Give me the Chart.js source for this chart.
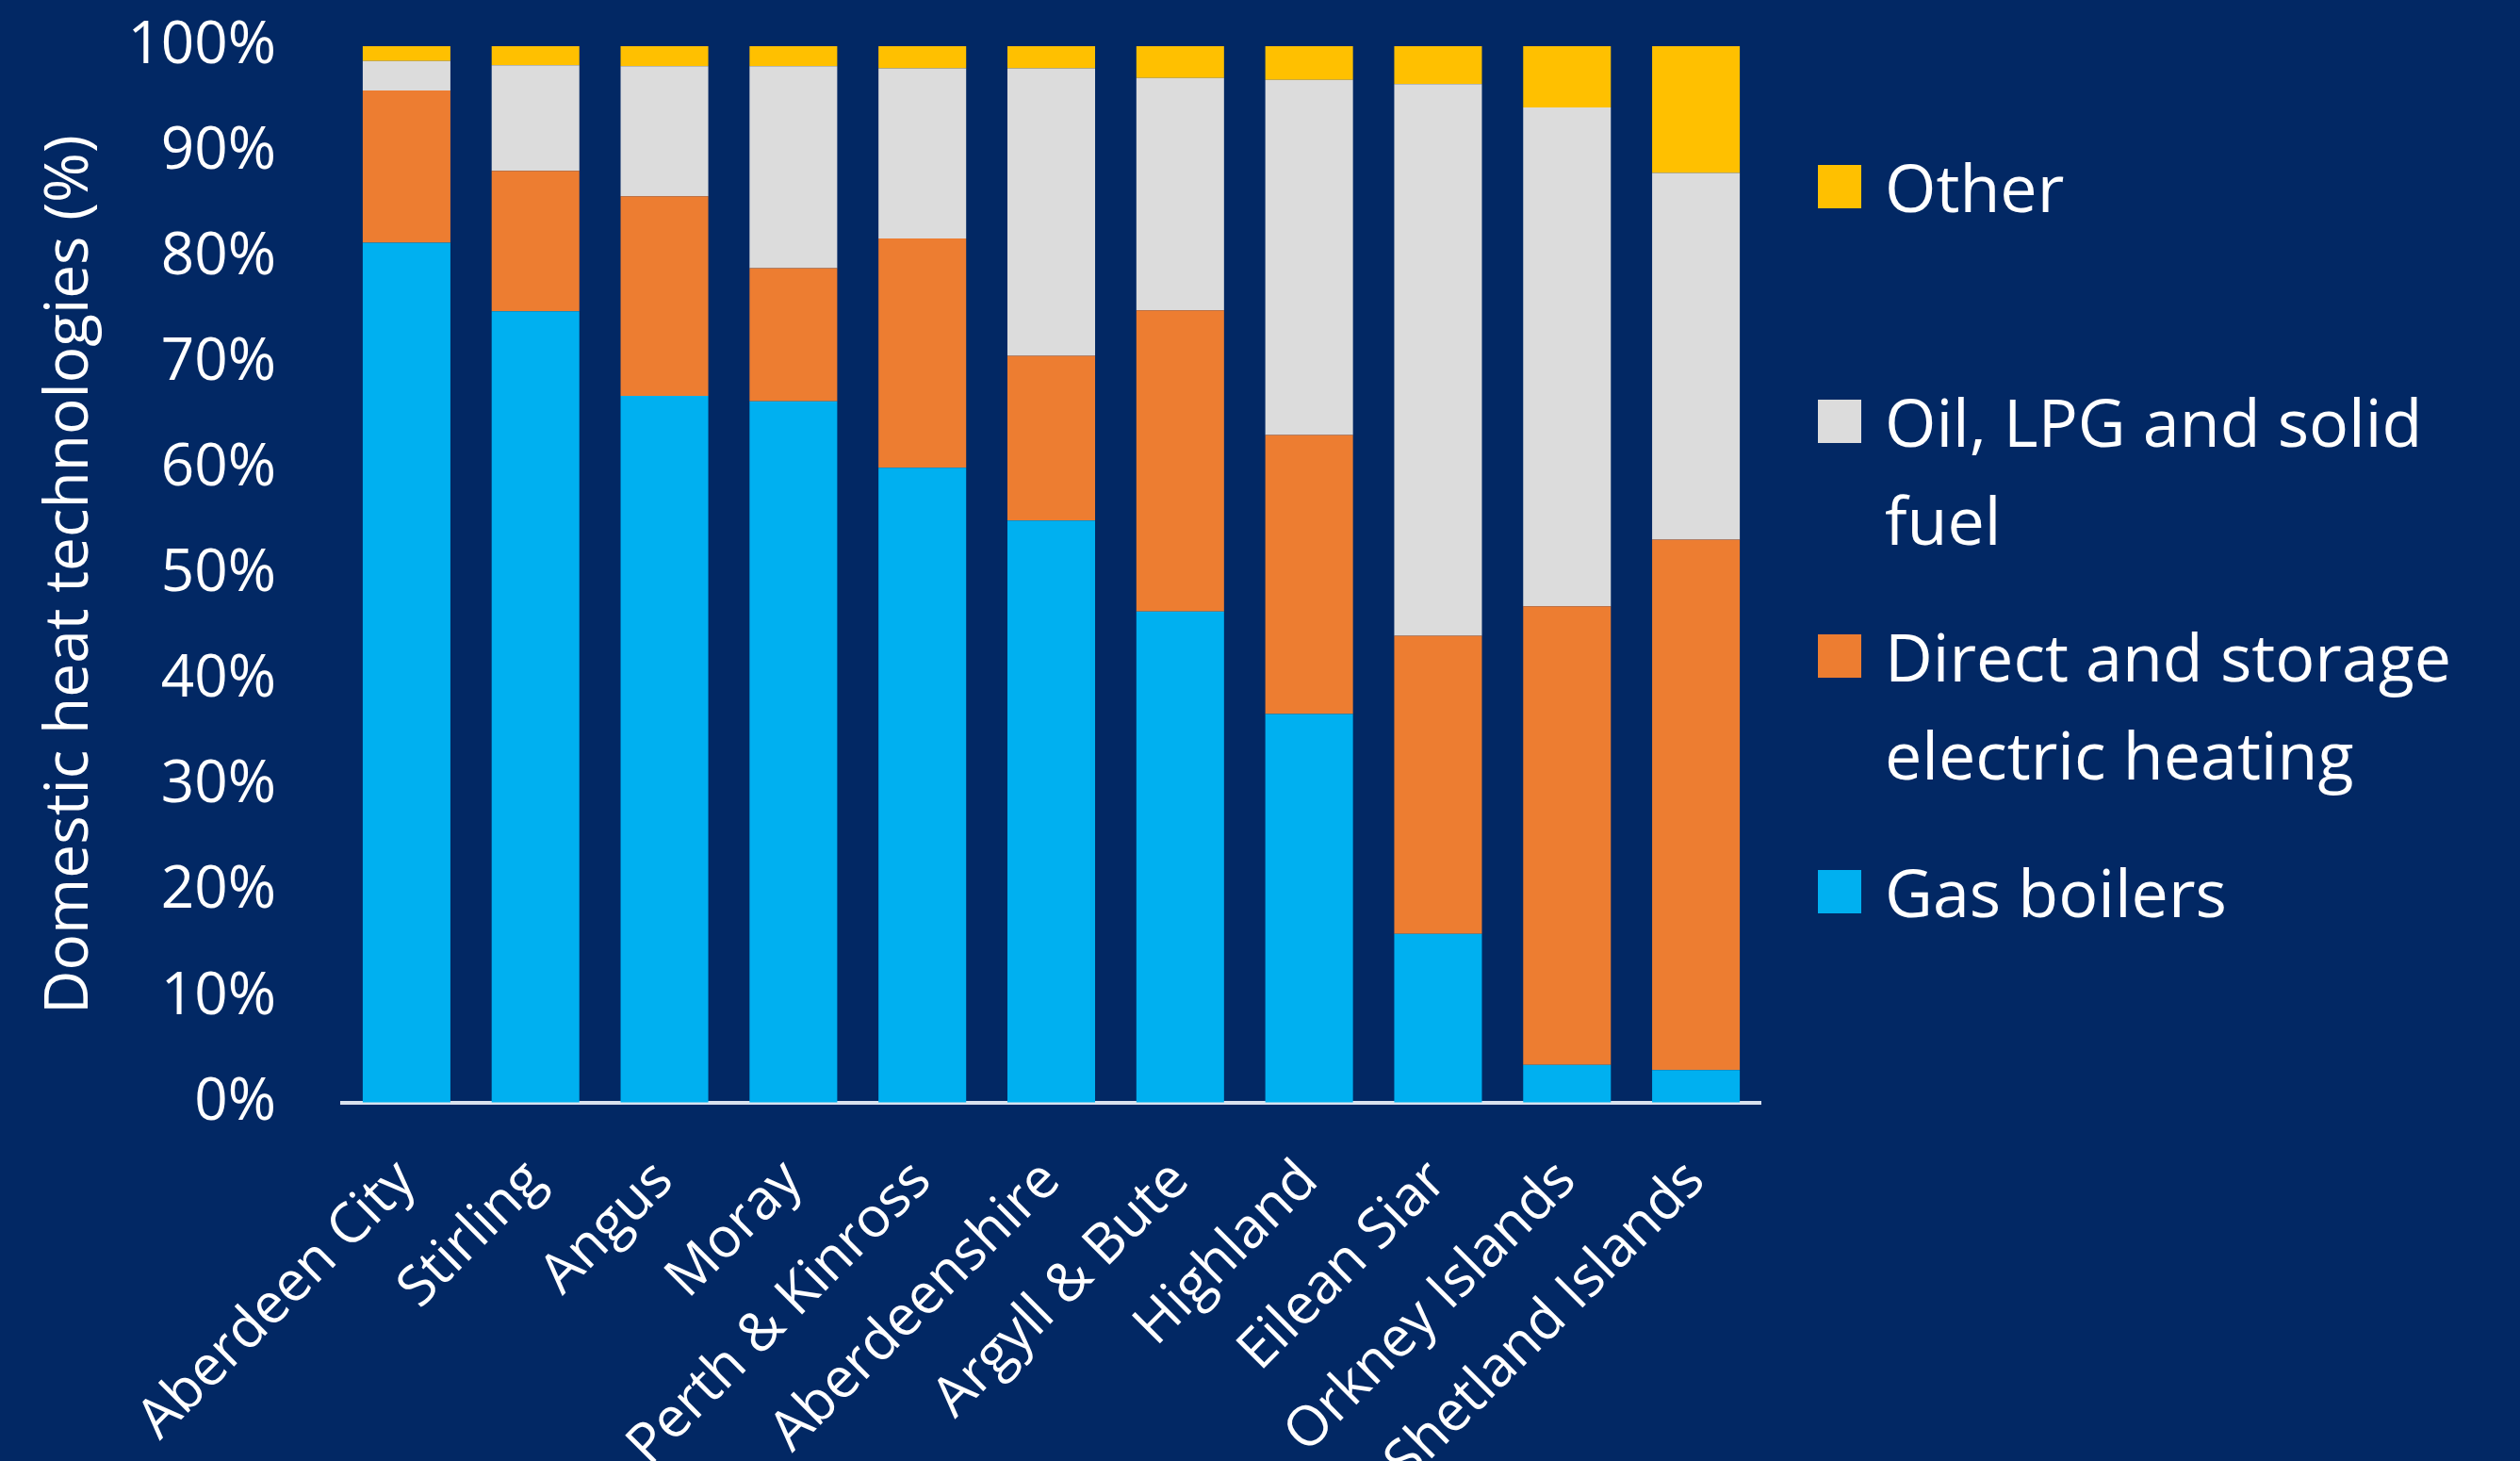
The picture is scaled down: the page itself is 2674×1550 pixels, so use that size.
<!DOCTYPE html>
<html lang="en">
<head>
<meta charset="UTF-8">
<title>Domestic heat technologies by local authority</title>
<script src="https://cdn.jsdelivr.net/npm/chart.js@4.4.1/dist/chart.umd.min.js"></script>
<style>
  html, body {
    margin: 0;
    padding: 0;
    background: #022864;
  }
  #wrap {
    position: relative;
    width: 2674px;
    height: 1550px;
    overflow: hidden;
  }
  #heat-chart {
    position: absolute;
    left: 0;
    top: 0;
  }
  .legend-item {
    position: absolute;
    left: 1929px;
    width: 740px;
    font-family: "Open Sans", sans-serif;
    font-size: 70px;
    line-height: 104px;
    color: #ffffff;
  }
  .legend-box {
    position: absolute;
    left: 0;
    top: 29px;
    width: 46px;
    height: 46px;
  }
  .legend-text {
    margin-left: 71px;
    width: 660px;
  }
</style>
</head>
<body>
<div id="wrap">
  <canvas id="heat-chart" width="2674" height="1550"></canvas>
  <div id="legend"></div>
</div>
<script>
// Share of domestic heat technologies per local authority (%)
const areas = [
  "Aberdeen City",
  "Stirling",
  "Angus",
  "Moray",
  "Perth & Kinross",
  "Aberdeenshire",
  "Argyll & Bute",
  "Highland",
  "Eilean Siar",
  "Orkney Islands",
  "Shetland Islands",
];
const gasBoilers = [81.4, 74.9, 66.9, 66.4, 60.1, 55.1, 46.5, 36.8, 16.0, 3.6, 3.1];
const electricHeating = [14.4, 13.3, 18.9, 12.6, 21.7, 15.6, 28.5, 26.4, 28.2, 43.4, 50.2];
const oilLpgSolid = [2.8, 10.0, 12.3, 19.1, 16.1, 27.2, 22.0, 33.6, 52.2, 47.2, 34.7];
const otherHeat = [1.4, 1.8, 1.9, 1.9, 2.1, 2.1, 3.0, 3.2, 3.6, 5.8, 12.0];
const yTickValues = [0, 10, 20, 30, 40, 50, 60, 70, 80, 90, 100];

// legend row centres (px from top), top entry first
const legendRows = [198, 447, 696, 946];

Chart.defaults.font.family = "'Open Sans', sans-serif";
Chart.defaults.color = "#ffffff";

function buildDatasets() {
  return [
    { label: "Gas boilers", data: gasBoilers, backgroundColor: "#00b0f0" },
    { label: "Direct and storage electric heating", data: electricHeating, backgroundColor: "#ed7d31" },
    { label: "Oil, LPG and solid fuel", data: oilLpgSolid, backgroundColor: "#dcdcdc" },
    { label: "Other", data: otherHeat, backgroundColor: "#ffc000" },
  ];
}

// Legend sits to the right, top entry = top of the stack
function renderLegend(datasets) {
  const legend = document.getElementById("legend");
  legend.innerHTML = "";
  datasets
    .slice()
    .reverse()
    .forEach((ds, i) => {
      const item = document.createElement("div");
      item.className = "legend-item";
      item.style.top = legendRows[i] - 52 + "px";

      const box = document.createElement("div");
      box.className = "legend-box";
      box.style.background = ds.backgroundColor;

      const text = document.createElement("div");
      text.className = "legend-text";
      text.textContent = ds.label;

      item.appendChild(box);
      item.appendChild(text);
      legend.appendChild(item);
    });
}

function renderChart() {
  const ctx = document.getElementById("heat-chart").getContext("2d");
  const datasets = buildDatasets();

  new Chart(ctx, {
    type: "bar",
    data: {
      labels: areas,
      datasets: datasets,
    },
    options: {
      responsive: false,
      animation: false,
      devicePixelRatio: 1,
      layout: {
        padding: { top: 49, right: 806, bottom: 0, left: 0 },
      },
      datasets: {
        bar: {
          categoryPercentage: 1,
          barPercentage: 0.68,
          borderWidth: 0,
        },
      },
      plugins: {
        legend: { display: false },
        tooltip: { enabled: false },
      },
      scales: {
        x: {
          stacked: true,
          grid: { display: true, drawOnChartArea: false, drawTicks: false },
          border: { display: true, color: "#d9e2ef", width: 4 },
          ticks: {
            minRotation: 45,
            maxRotation: 45,
            autoSkip: false,
            padding: 48,
            font: { size: 59 },
          },
          afterFit: (scale) => {
            scale.height = 380;
            scale.paddingLeft = 0;
            scale.paddingRight = 0;
          },
        },
        y: {
          stacked: true,
          min: 0,
          max: 100,
          grid: { display: true, drawOnChartArea: false, drawTicks: false },
          border: { display: false },
          afterBuildTicks: (axis) => {
            axis.ticks = yTickValues.map((v) => ({ value: v }));
          },
          ticks: {
            padding: 70,
            font: { size: 62 },
            callback: (value) => value + "%",
          },
          title: {
            display: true,
            text: "Domestic heat technologies (%)",
            font: { size: 64 },
            padding: { top: 36, bottom: 0 },
          },
          afterFit: (scale) => {
            // keep the plot edges fixed regardless of label sizes
            scale.width = 363;
            scale.paddingTop = 0;
            scale.paddingBottom = 0;
          },
        },
      },
    },
  });

  renderLegend(datasets);
}

window.onload = function () {
  renderChart();
};
</script>
</body>
</html>
